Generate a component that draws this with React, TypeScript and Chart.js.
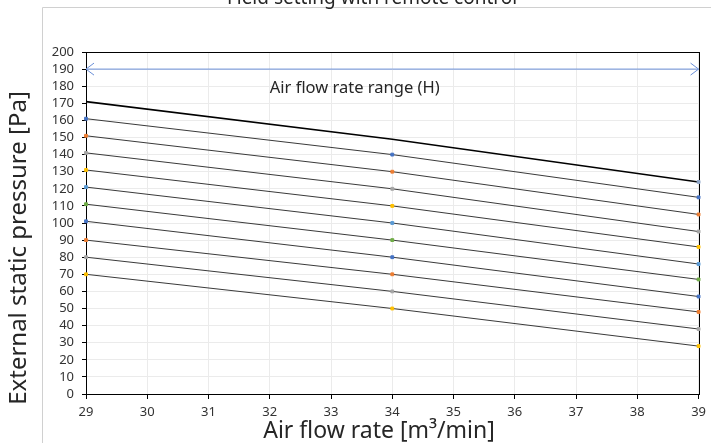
import React, { useEffect, useRef } from "react";
import { Chart, registerables } from "chart.js";

Chart.register(...registerables);

const chartTitle = "Field setting with remote control";
const xAxisTitle = "Air flow rate [m³/min]";
const yAxisTitle = "External static pressure [Pa]";
const rangeLabel = "Air flow rate range (H)";

const xValues = [29, 34, 39];
const lineH = [171, 149, 124];
const line2 = [161, 140, 115];
const line3 = [151, 130, 105];
const line4 = [141, 120, 95];
const line5 = [131, 110, 86];
const line6 = [121, 100, 76];
const line7 = [111, 90, 67];
const line8 = [101, 80, 57];
const line9 = [90, 70, 48];
const line10 = [80, 60, 38];
const line11 = [70, 50, 28];

const rangeX = [29, 39];
const rangeY = 190;
const rangeLabelPos = { x: 32, y: 179 };

const markerColors = ["#4472C4", "#ED7D31", "#A5A5A5", "#FFC000", "#5B9BD5", "#70AD47", "#4472C4", "#ED7D31", "#A5A5A5", "#FFC000"];
const lowerLines = [line2, line3, line4, line5, line6, line7, line8, line9, line10, line11];

const FONT = "'Noto Sans', 'Open Sans', sans-serif";

const overlayPlugin = {
  id: "overlay",
  beforeDraw(chart: any) {
    const ctx = chart.ctx;
    ctx.save();
    ctx.fillStyle = "#ffffff";
    ctx.fillRect(0, 0, chart.width, chart.height);
    ctx.strokeStyle = "#d0d0d0";
    ctx.lineWidth = 1;
    ctx.beginPath();
    ctx.moveTo(42.5, chart.height);
    ctx.lineTo(42.5, 7.5);
    ctx.lineTo(chart.width, 7.5);
    ctx.stroke();
    ctx.restore();
  },
  beforeDatasetsDraw(chart: any) {
    const ctx = chart.ctx;
    const a = chart.chartArea;
    ctx.save();
    ctx.strokeStyle = "#000";
    ctx.lineWidth = 1;
    ctx.strokeRect(Math.round(a.left) + 0.5, Math.round(a.top) + 0.5, Math.round(a.right - a.left), Math.round(a.bottom - a.top));
    ctx.restore();
  },
  afterDraw(chart: any) {
    const ctx = chart.ctx;
    const xs = chart.scales.x;
    const ys = chart.scales.y;
    ctx.save();
    ctx.fillStyle = "#262626";
    ctx.font = `19px ${FONT}`;
    ctx.textAlign = "center";
    ctx.textBaseline = "alphabetic";
    ctx.fillText(chartTitle, 372, 4);
    ctx.font = `23px ${FONT}`;
    ctx.textBaseline = "middle";
    ctx.fillText(xAxisTitle, 379, 431);
    ctx.save();
    ctx.translate(19, 248);
    ctx.rotate(-Math.PI / 2);
    ctx.font = `24px ${FONT}`;
    ctx.fillText(yAxisTitle, 0, 0);
    ctx.restore();
    const y = ys.getPixelForValue(rangeY);
    const xl = xs.getPixelForValue(rangeX[0]);
    const xr = xs.getPixelForValue(rangeX[1]);
    ctx.strokeStyle = "#6a8fd8";
    ctx.lineWidth = 1;
    ctx.beginPath();
    ctx.moveTo(xl + 8, y - 6);
    ctx.lineTo(xl, y);
    ctx.lineTo(xl + 8, y + 6);
    ctx.moveTo(xr - 8, y - 6);
    ctx.lineTo(xr, y);
    ctx.lineTo(xr - 8, y + 6);
    ctx.stroke();
    ctx.fillStyle = "#262626";
    ctx.font = `16.5px ${FONT}`;
    ctx.textAlign = "left";
    ctx.textBaseline = "middle";
    ctx.fillText(rangeLabel, xs.getPixelForValue(rangeLabelPos.x), ys.getPixelForValue(rangeLabelPos.y));
    ctx.restore();
  },
};

export default function App() {
  const ref = useRef<HTMLCanvasElement | null>(null);
  useEffect(() => {
    if (!ref.current) return;
    const toPts = (arr: number[]) => arr.map((v, i) => ({ x: xValues[i], y: v }));
    const datasets: any[] = [
      {
        label: "range",
        data: rangeX.map((x) => ({ x, y: rangeY })),
        borderColor: "#6a8fd8",
        borderWidth: 1,
        pointRadius: 0,
        clip: false,
      },
      {
        label: "H",
        data: toPts(lineH),
        borderColor: "#000000",
        borderWidth: 1.6,
        pointRadius: [0, 0, 2],
        pointStyle: "rect",
        pointBackgroundColor: "#8fa6c8",
        pointBorderColor: "#8fa6c8",
        pointBorderWidth: 1,
        clip: false,
      },
      ...lowerLines.map((arr, i) => ({
        label: `L${i + 2}`,
        data: toPts(arr),
        borderColor: "#3a3a3a",
        borderWidth: 1,
        pointRadius: 2,
        pointStyle: "rect",
        pointBackgroundColor: markerColors[i],
        pointBorderColor: markerColors[i],
        pointBorderWidth: 1,
        clip: false,
      })),
    ];
    const chart = new Chart(ref.current, {
      type: "line",
      data: { datasets },
      plugins: [overlayPlugin],
      options: {
        animation: false,
        responsive: false,
        devicePixelRatio: 1,
        layout: { padding: { top: 52, right: 11, left: 0, bottom: 0 } },
        plugins: { legend: { display: false }, tooltip: { enabled: false }, title: { display: false } },
        elements: { line: { tension: 0 } },
        scales: {
          x: {
            type: "linear",
            min: 29,
            max: 39,
            ticks: { stepSize: 1, autoSkip: false, color: "#333", font: { family: FONT, size: 13 }, padding: 5, maxRotation: 0 },
            grid: { color: "#ebebeb", tickColor: "#000", tickLength: 5, drawTicks: true },
            border: { display: true, color: "#000", width: 1 },
            afterFit: (s: any) => { s.height = 49; },
          },
          y: {
            type: "linear",
            min: 0,
            max: 200,
            ticks: { stepSize: 10, autoSkip: false, color: "#333", font: { family: FONT, size: 13 }, padding: 8 },
            grid: { color: "#ebebeb", tickColor: "#000", tickLength: 4, drawTicks: true },
            border: { display: true, color: "#000", width: 1 },
            afterFit: (s: any) => { s.width = 86; },
          },
        },
      },
    } as any);
    return () => chart.destroy();
  }, []);
  return (
    <div style={{ position: "absolute", left: 0, top: 0, width: 711, height: 443 }}>
      <canvas ref={ref} width={711} height={443} style={{ display: "block" }} />
    </div>
  );
}
